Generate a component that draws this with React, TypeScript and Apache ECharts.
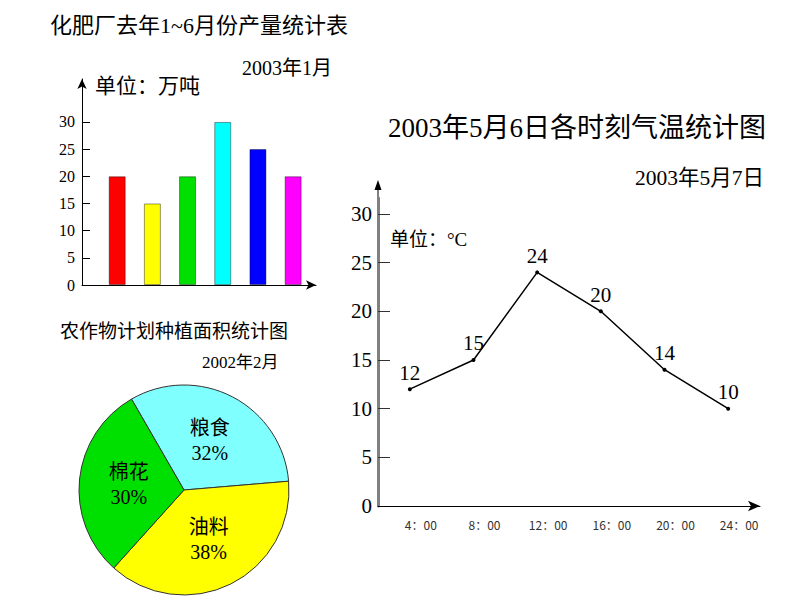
import React, { useEffect, useRef } from 'react';
import * as echarts from 'echarts';

// Chart 1: fertilizer output, Jan–Jun (unit: 10k tons)
const monthPos = [1, 2, 3, 4, 5, 6];
const output = [20, 15, 20, 30, 25, 20];
const barColors = ['#FF0000', '#FFFF00', '#00E000', '#00FFFF', '#0000FF', '#FF00FF'];
const barTicks = [0, 5, 10, 15, 20, 25, 30];

// Chart 2: crop planting area shares
const cropNames = ['粮食', '油料', '棉花'];
const cropShares = [32, 38, 30];
const cropColors = ['#80FFFF', '#FFFF00', '#00E000'];

// Chart 3: temperature by hour
const hours = ['4：00', '8：00', '12：00', '16：00', '20：00', '24：00'];
const temps = [12, 15, 24, 20, 14, 10];
const tempLabels = [0, 5, 10, 15, 20, 25, 30];
const tempTicks = [5, 10, 15, 20, 25, 30];

const serif = "'Liberation Serif', 'Noto Sans CJK SC', serif";

const txt = (t: string, x: number, y: number, size: number) => ({
  type: 'text',
  x,
  y,
  silent: true,
  style: { text: t, fontSize: size, fontFamily: serif, fill: '#000', align: 'left', verticalAlign: 'middle' },
});

export default function App() {
  const ref = useRef<HTMLDivElement>(null);
  useEffect(() => {
    if (!ref.current) return;
    const chart = echarts.init(ref.current, undefined, { renderer: 'svg' });
    const option: any = {
      animation: false,
      backgroundColor: '#fff',
      grid: [
        { left: 82, top: 79, width: 234, height: 206 },
        { left: 378, top: 198, width: 382, height: 308 },
      ],
      xAxis: [
        {
          gridIndex: 0,
          type: 'value',
          min: 0,
          max: 6.65,
          axisLine: { show: true, lineStyle: { color: '#000', width: 1 }, symbol: ['none', 'arrow'], symbolSize: [7, 10] },
          axisTick: { show: false },
          axisLabel: { show: false },
          splitLine: { show: false },
        },
        {
          gridIndex: 1,
          type: 'category',
          data: hours,
          boundaryGap: true,
          axisLine: { show: true, lineStyle: { color: '#000', width: 1 }, symbol: ['none', 'arrow'], symbolSize: [8, 12] },
          axisTick: { show: false },
          axisLabel: {
            color: '#333',
            fontSize: 12,
            fontFamily: "'Noto Sans CJK SC', sans-serif",
            margin: 12,
            padding: [0, 0, 0, 22],
          },
          splitLine: { show: false },
        },
      ],
      yAxis: [
        {
          gridIndex: 0,
          type: 'value',
          min: 0,
          max: 37.9,
          axisLine: { show: true, lineStyle: { color: '#000', width: 1 }, symbol: ['none', 'arrow'], symbolSize: [7, 10] },
          axisTick: { show: true, inside: true, length: 8, customValues: barTicks, lineStyle: { color: '#000' } },
          axisLabel: { customValues: barTicks, fontSize: 16, fontFamily: serif, color: '#000', margin: 7 },
          splitLine: { show: false },
        },
        {
          gridIndex: 1,
          type: 'value',
          min: 0,
          max: 31.64,
          axisLine: { show: true, lineStyle: { color: '#808080', width: 3 } },
          axisTick: { show: true, inside: true, length: 12, customValues: tempTicks, lineStyle: { color: '#333' } },
          axisLabel: { customValues: tempLabels, fontSize: 21, fontFamily: serif, color: '#000', margin: 6 },
          splitLine: { show: false },
        },
      ],
      series: [
        {
          type: 'bar',
          xAxisIndex: 0,
          yAxisIndex: 0,
          barWidth: 17,
          itemStyle: { borderColor: 'rgba(0,0,0,0.4)', borderWidth: 1 },
          data: monthPos.map((m, i) => ({ value: [m, output[i]], itemStyle: { color: barColors[i] } })),
        },
        {
          type: 'line',
          xAxisIndex: 1,
          yAxisIndex: 1,
          data: temps,
          symbol: 'circle',
          symbolSize: 4,
          lineStyle: { color: '#000', width: 1.5 },
          itemStyle: { color: '#000' },
          label: { show: true, position: 'top', distance: 4, fontSize: 21, fontFamily: serif, color: '#000' },
        },
        {
          type: 'pie',
          center: [184, 490],
          radius: 105,
          startAngle: 120,
          clockwise: true,
          data: cropNames.map((n, i) => ({ name: n, value: cropShares[i], itemStyle: { color: cropColors[i] } })),
          itemStyle: { borderColor: '#333', borderWidth: 1 },
          label: {
            show: true,
            position: 'inside',
            formatter: '{b}\n{c}%',
            fontSize: 20,
            lineHeight: 25,
            fontFamily: serif,
            color: '#000',
            textBorderWidth: 0,
          },
          labelLine: { show: false },
          emphasis: { disabled: true },
        },
      ],
      graphic: [
        txt('化肥厂去年1~6月份产量统计表', 50, 25, 22),
        txt('2003年1月', 242, 68, 20),
        txt('单位：万吨', 95, 86, 21),
        txt('农作物计划种植面积统计图', 60, 331, 19),
        txt('2002年2月', 202, 362, 17),
        txt('2003年5月6日各时刻气温统计图', 388, 128, 27),
        txt('2003年5月7日', 635, 178, 21.5),
        txt('单位：°C', 390, 239, 19),
        { type: 'line', silent: true, shape: { x1: 378, y1: 199, x2: 378, y2: 186 }, style: { stroke: '#000', lineWidth: 1 } },
        { type: 'polygon', silent: true, shape: { points: [[378, 180], [374.5, 190], [381.5, 190]] }, style: { fill: '#000' } },
      ],
    };
    chart.setOption(option);
    return () => chart.dispose();
  }, []);
  return (
    <div
      ref={ref}
      style={{ position: 'fixed', left: 0, top: 0, width: 800, height: 600, background: '#fff' }}
    />
  );
}
